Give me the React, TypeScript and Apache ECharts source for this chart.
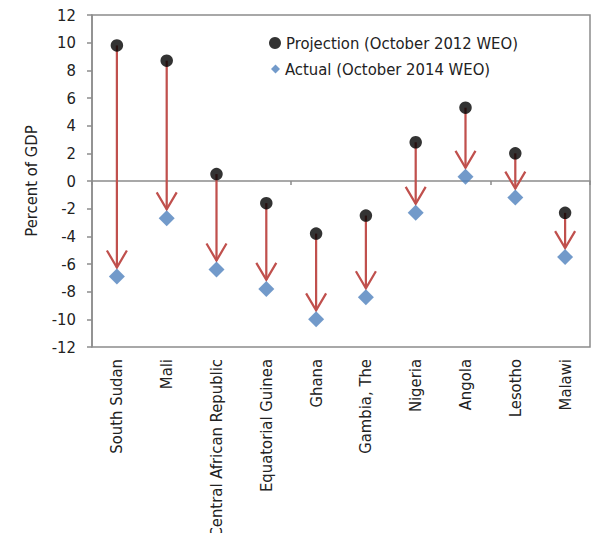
import React, { useEffect, useRef } from "react";
import * as echarts from "echarts";

// Fiscal balance, percent of GDP
const countries = [
  "South Sudan",
  "Mali",
  "Central African Republic",
  "Equatorial Guinea",
  "Ghana",
  "Gambia, The",
  "Nigeria",
  "Angola",
  "Lesotho",
  "Malawi",
];
const projection2012 = [9.8, 8.7, 0.5, -1.6, -3.8, -2.5, 2.8, 5.3, 2.0, -2.3];
const actual2014 = [-6.9, -2.7, -6.4, -7.8, -10.0, -8.4, -2.3, 0.3, -1.2, -5.5];

const projName = "Projection (October 2012 WEO)";
const actualName = "Actual (October 2014 WEO)";

const FONT = "'DejaVu Sans Condensed', 'Liberation Sans', Arial, sans-serif";
const FS = 16.5;
const TEXT = "#222222";
const FRAME = "#8c8c8c";
const ARROW = "#C0504D";

export default function App() {
  const ref = useRef<HTMLDivElement>(null);

  useEffect(() => {
    if (!ref.current) return;
    const chart = echarts.init(ref.current, undefined, { renderer: "svg" });

    const arrowData = countries.map((_, i) => [i, projection2012[i], actual2014[i]]);

    chart.setOption({
      animation: false,
      textStyle: { fontFamily: FONT },
      grid: {
        left: 92,
        right: 4,
        top: 15,
        bottom: 186,
        containLabel: false,
        outerBoundsMode: "none",
        show: true,
        borderColor: FRAME,
        borderWidth: 1.5,
        backgroundColor: "transparent",
      },
      legend: [
        {
          data: [projName],
          orient: "vertical",
          left: 269,
          top: 33,
          padding: 0,
          itemWidth: 12,
          itemHeight: 12,
          selectedMode: false,
          textStyle: { fontSize: FS, color: TEXT, fontFamily: FONT, lineHeight: 20 },
        },
        {
          data: [actualName],
          orient: "vertical",
          left: 271,
          top: 59,
          padding: 0,
          itemWidth: 9,
          itemHeight: 9,
          selectedMode: false,
          textStyle: { fontSize: FS, color: TEXT, fontFamily: FONT, lineHeight: 20 },
        },
      ],
      xAxis: [
        {
          type: "category",
          data: countries,
          position: "bottom",
          axisLine: { show: false, onZero: false },
          axisTick: { show: false },
          axisLabel: {
            rotate: 90,
            margin: 12,
            fontSize: FS,
            color: TEXT,
            fontFamily: FONT,
            interval: 0,
          },
          splitLine: { show: false },
        },
        {
          type: "category",
          data: countries,
          position: "bottom",
          axisLine: { show: true, onZero: true, lineStyle: { color: FRAME, width: 1.5 } },
          axisTick: { show: true, length: 4, lineStyle: { color: FRAME, width: 1.5 } },
          axisLabel: { show: false },
          splitLine: { show: false },
        },
      ],
      yAxis: {
        type: "value",
        min: -12,
        max: 12,
        interval: 2,
        name: "Percent of GDP",
        nameLocation: "middle",
        nameGap: 52,
        nameTextStyle: { fontSize: FS, color: TEXT, fontFamily: FONT },
        axisLine: { show: true, lineStyle: { color: FRAME, width: 1.5 } },
        axisTick: { show: true, length: 5, lineStyle: { color: FRAME, width: 1.5 } },
        axisLabel: { fontSize: FS, color: TEXT, fontFamily: FONT, margin: 16 },
        splitLine: { show: false },
      },
      series: [
        {
          type: "custom",
          name: "revision",
          xAxisIndex: 0,
          data: arrowData,
          encode: { x: 0, y: [1, 2] },
          z: 2,
          renderItem: (params: any, api: any) => {
            const i = api.value(0);
            const p0 = api.coord([i, api.value(1)]);
            const p1 = api.coord([i, api.value(2)]);
            const dx = p1[0] - p0[0];
            const dy = p1[1] - p0[1];
            const len = Math.sqrt(dx * dx + dy * dy) || 1;
            const ux = dx / len;
            const uy = dy / len;
            // stop the arrow just short of the diamond marker
            const tip = [p1[0] - ux * 9, p1[1] - uy * 9];
            const back = 17;
            const half = 10;
            const bx = tip[0] - ux * back;
            const by = tip[1] - uy * back;
            const w1 = [bx - uy * half, by + ux * half];
            const w2 = [bx + uy * half, by - ux * half];
            const stroke = { stroke: ARROW, lineWidth: 2.25, fill: "none" };
            return {
              type: "group",
              children: [
                {
                  type: "line",
                  shape: { x1: p0[0], y1: p0[1], x2: tip[0], y2: tip[1] },
                  style: stroke,
                },
                {
                  type: "polyline",
                  shape: { points: [w1, tip, w2] },
                  style: stroke,
                },
              ],
            };
          },
        },
        {
          type: "scatter",
          name: projName,
          xAxisIndex: 0,
          data: projection2012,
          symbol: "circle",
          symbolSize: 12.5,
          itemStyle: { color: "#000000" },
          z: 3,
        },
        {
          type: "scatter",
          name: actualName,
          xAxisIndex: 0,
          data: actual2014,
          symbol: "diamond",
          symbolSize: 16,
          itemStyle: { color: "#4F81BD" },
          z: 3,
        },
      ],
    });

    return () => chart.dispose();
  }, []);

  return <div ref={ref} style={{ width: 594, height: 533, position: "absolute", left: 0, top: 0 }} />;
}
